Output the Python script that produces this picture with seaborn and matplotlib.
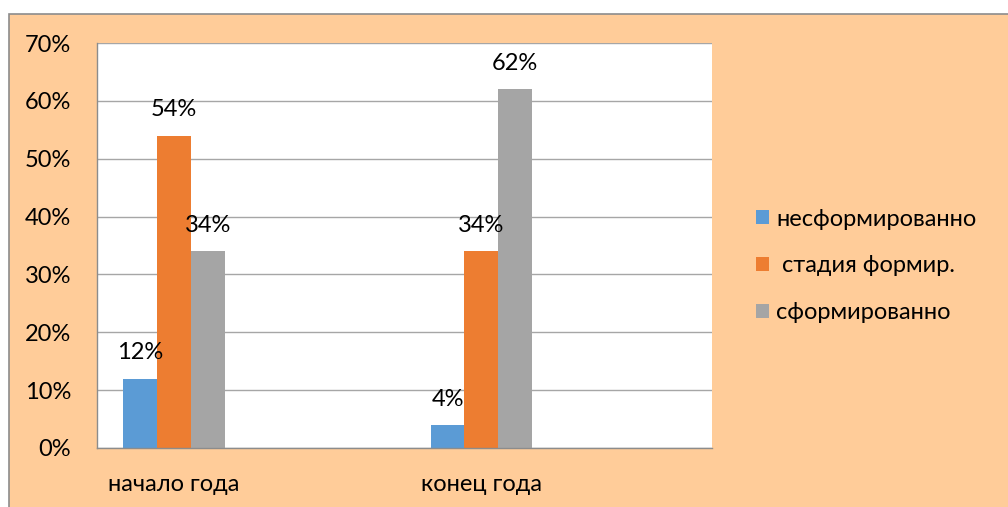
import pandas as pd
import matplotlib.pyplot as plt
import seaborn as sns
from matplotlib.patches import Rectangle

# data
periods = ["начало года", "конец года"]
slots = ["начало года", " ", "конец года", "  "]  # two empty slots on the axis
levels = ["несформированно", " стадия формир.", "сформированно"]
start_vals = [12, 54, 34]
end_vals = [4, 34, 62]
colors = ["#5B9BD5", "#ED7D31", "#A5A5A5"]

df = pd.DataFrame({
    "period": [periods[0]] * 3 + [periods[1]] * 3,
    "level": levels * 2,
    "value": start_vals + end_vals,
})

sns.set_style("white")
plt.rcParams["font.family"] = ["Lato", "DejaVu Sans"]
plt.rcParams["text.color"] = "black"
fs = 17

fig = plt.figure(figsize=(10.08, 5.07), dpi=100, facecolor="white")
# peach chart area with its grey frame
bg = Rectangle((9 / 1008, -0.02), 1.0, 1 - 14 / 507 + 0.02,
               transform=fig.transFigure, facecolor="#FFCC99",
               edgecolor="#8C8C8C", linewidth=1.2, zorder=-10)
fig.add_artist(bg)
ax = fig.add_axes([97 / 1008, 1 - 448 / 507, (712 - 97) / 1008, (448 - 43) / 507])
ax.set_zorder(1)
ax.set_facecolor("white")

sns.barplot(data=df, x="period", y="value", hue="level", order=slots,
            hue_order=levels, palette=colors, saturation=1, width=0.66,
            gap=0, linewidth=0, ax=ax)

for c in ax.containers:
    ax.bar_label(c, fmt="{:.0f}%", padding=11, fontsize=fs, color="black")

ax.set_ylim(0, 70)
ax.set_yticks(range(0, 71, 10))
ax.set_yticklabels([f"{v}%" for v in range(0, 71, 10)], fontsize=fs)
ax.set_xlim(-0.5, 3.5)
ax.set_xticks([0, 1, 2, 3])
ax.set_xticklabels(slots, fontsize=fs)
ax.tick_params(axis="x", length=0, pad=19, labelcolor="black")
ax.set_xticks([-0.5, 0.5, 1.5, 2.5, 3.5], minor=True)
ax.tick_params(axis="x", which="minor", length=6, color="#8C8C8C", width=1)
ax.tick_params(axis="y", length=6.5, color="#8C8C8C", width=1, pad=12,
               labelcolor="black")
ax.set_xlabel("")
ax.set_ylabel("")

ax.yaxis.grid(True, color="#A6A6A6", linewidth=1)
ax.set_axisbelow(True)
for s in ["top", "right"]:
    ax.spines[s].set_visible(False)
for s in ["left", "bottom"]:
    ax.spines[s].set_color("#8C8C8C")
    ax.spines[s].set_linewidth(1)

ax.legend(loc="center left", bbox_to_anchor=(744 / 1008, 1 - 266 / 507),
          bbox_transform=fig.transFigure, frameon=False, fontsize=fs,
          handlelength=0.55, handleheight=0.55, handletextpad=0.3,
          labelspacing=1.1, borderpad=0, labelcolor="black")

fig.savefig("out.png", dpi=100, facecolor=fig.get_facecolor())
